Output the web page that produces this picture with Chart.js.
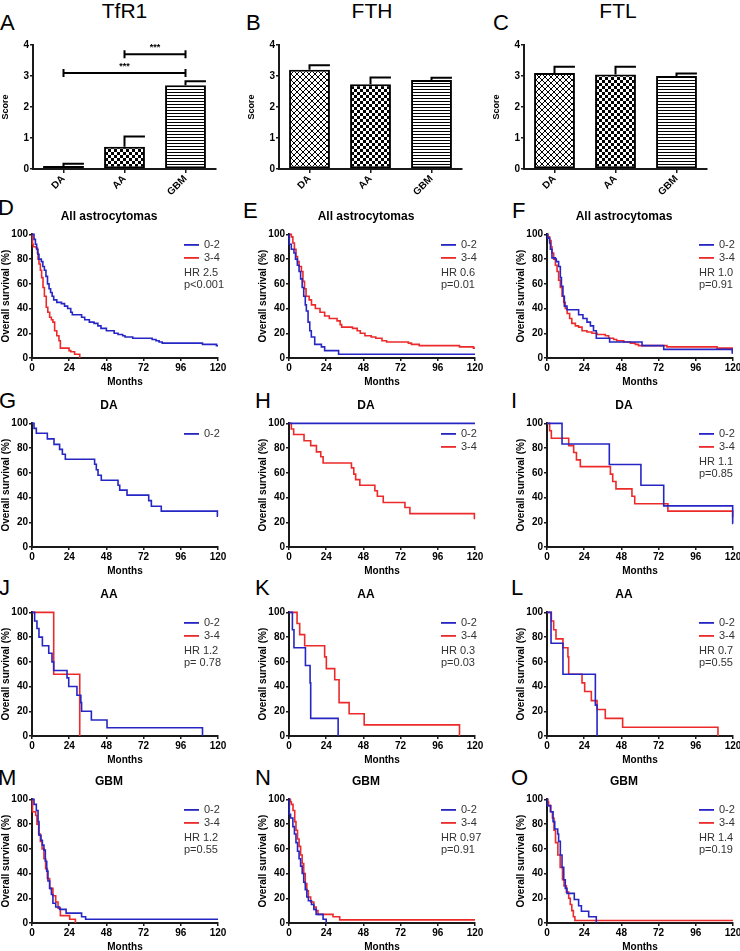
<!DOCTYPE html>
<html>
<head>
<meta charset="utf-8">
<script src="https://cdn.jsdelivr.net/npm/chart.js@4.4.1/dist/chart.umd.min.js"></script>
<style>
  html, body { margin: 0; padding: 0; background: #fff; }
  body { position: relative; width: 740px; height: 951px; overflow: hidden; font-family: "Liberation Sans", Arial, sans-serif; }
  canvas { position: absolute; }
  .tag { position: absolute; font-size: 22px; line-height: 1; color: #000; }
  .head { position: absolute; font-size: 21px; line-height: 1; color: #000; transform: translateX(-50%); white-space: nowrap; }
</style>
</head>
<body>
<script>
// =============== Scores (A-C)
const groups = ['DA', 'AA', 'GBM'];
const scoreTicks = [0, 1, 2, 3, 4];
const tfr1Score = [0.1, 0.72, 2.7];
const tfr1Sem = [0.07, 0.33, 0.13];
const fthScore = [3.2, 2.73, 2.87];
const fthSem = [0.15, 0.22, 0.07];
const ftlScore = [3.1, 3.05, 3.0];
const ftlSem = [0.2, 0.25, 0.08];
const tfr1Sig = [[0, 2, 3.1], [1, 2, 3.7]];   // groups compared + bracket height
const sigLabel = '***';

// =============== Survival (month, % alive)  0-2 = low, 3-4 = high
const monthTicks = [0, 24, 48, 72, 96, 120];
const survTicks = [0, 20, 40, 60, 80, 100];
const seriesNames = ['0-2', '3-4'];

const tfr1AllLow = [[0,100],[1.3,96],[2.2,92],[3,88],[3.8,84],[4.5,80],[6,78],[7,74],[8,71],[9,66],[10,60],[11,56],[12,53],[13,50],[14,47],[16,45],[19,44],[21,42],[23,40],[25,37],[26,35],[32,33],[34,31],[37,29],[40,28],[42.5,26],[44.5,24],[48,22],[53,20],[55.5,19],[58.5,18],[60,17],[65,16],[77.5,15],[80,14],[82,13],[84,12],[110,11],[119,10],[120,10]];
const tfr1AllHigh = [[0,100],[0.3,92],[0.8,90],[2.8,89],[3.5,85],[3.9,80],[4.5,76],[5.4,71],[6.2,65],[7.1,57],[8,50],[9.2,41],[10.2,37],[11.4,33],[12.5,31],[13.5,29],[14.6,22],[16,18],[17.4,14],[18.3,8],[23.9,6],[25,5],[27.5,3],[30.8,0]];
const fthAllLow = [[0,100],[0.2,92],[1.5,88],[3.2,85],[4.2,80],[5.4,75],[6.5,70],[7.5,64],[8.5,57],[9.5,50],[10.5,43],[11.2,38],[12.3,29],[13.4,22],[14.4,17],[16.6,11],[20.9,9],[23,6],[32,3],[120,3]];
const fthAllHigh = [[0,100],[1.5,98],[2.5,93],[3.5,88],[4.5,82],[5.5,78],[6.5,74],[8,70],[9,62],[10,56],[11,50],[13,47],[14.5,43],[17,40],[20,37],[23,34],[26,32],[31,30],[33,27],[34,25],[41,24],[44,22],[46,20],[49,18],[53,17],[56,16],[60,14],[63,13],[77,12],[79,11],[84,10],[110,9],[119,8],[120,8]];
const ftlAllLow = [[0,100],[0.5,97],[1.7,93],[2.2,88],[3.2,81],[5.4,80],[6,78],[7.5,74],[8.6,65],[9.3,58],[10.3,50],[11.2,42],[12.9,39],[20.4,35],[23.2,32],[25.8,29],[28,26],[30,22],[31.8,16],[40.4,13],[61.3,10],[75.3,7],[119.5,4],[120,4]];
const ftlAllHigh = [[0,100],[0.5,98],[1.7,95],[2.6,90],[3.2,85],[4.3,80],[5.4,75],[6.5,70],[7.5,63],[8.6,57],[9.7,50],[10.8,45],[11.8,40],[13,36],[14.6,32],[16,28],[18.3,26],[20.4,25],[22.6,22],[25.8,21],[29,20],[32.3,19],[37.6,18],[39.8,16],[43,15],[45,14],[49.5,13],[53.8,12],[57,11],[59,10],[77.4,9],[109.7,8],[119.5,7],[120,7]];

const tfr1DaLow = [[0,100],[1.3,96],[2.8,92],[9.9,87.5],[14.2,83],[17.8,79],[19.6,75],[21.5,71],[40.4,67],[41.5,62.5],[42.6,58],[44.7,54],[55.5,50],[56.6,46],[61.3,42],[75.3,37.5],[77,33],[83.4,29],[119.6,25],[120,25]];
const fthDaLow = [[0,100],[120,100]];
const fthDaHigh = [[0,100],[1.5,95.5],[3,91],[9.7,86],[14,82],[17.7,77],[20.5,73],[22,68],[40.3,64],[41.8,59],[43,54.5],[45.7,50],[55.4,45.5],[57,41],[60.8,36],[74.8,32],[78,27],[119.6,23],[120,23]];
const ftlDaLow = [[0,100],[9.7,83.3],[40.2,66.7],[60.6,50],[75.3,33.3],[119.8,19],[120,19]];
const ftlDaHigh = [[0,100],[1.7,94],[2.8,88],[14,82],[17.2,76.5],[19,70.5],[21.5,65],[40.9,59],[42.4,53],[44.5,47],[54.8,41],[56.6,35],[78,29],[119.8,24],[120,24]];

const tfr1AaLow = [[0,100],[1.7,93],[3.2,87],[4.5,80],[6.7,73],[10.8,67],[12.9,60],[14,53],[22.6,47],[23.7,40],[29,33],[31.5,27],[32,20],[38.3,13],[48.4,6.7],[110,0]];
const tfr1AaHigh = [[0,100],[14,50],[30.8,0]];
const fthAaLow = [[0,100],[2.2,86],[3.2,71.4],[10.6,57],[13.6,43],[14,14.3],[31.7,0]];
const fthAaHigh = [[0,100],[5.2,91],[6.9,82],[10.1,73],[23,64],[24.1,54.5],[29.5,45.5],[32.3,27],[38.8,18],[48.5,9],[110,0]];
const ftlAaLow = [[0,100],[2.6,75],[10.3,50],[31.2,25],[32.3,0]];
const ftlAaHigh = [[0,100],[2.8,93],[4.3,86],[5.8,78.6],[10.3,71.4],[13.5,64],[14,50],[22.6,43],[24.3,36],[28.6,28.6],[32.3,21.4],[37.6,14.3],[48.8,7.1],[110.3,0]];

const tfr1GbmLow = [[0,100],[1.3,96],[2.8,91],[3.9,82],[4.5,71],[5.8,67],[6.7,63],[7.7,59],[8.6,50],[9.5,42],[10.3,34],[11.4,28],[12.5,23],[13.5,16],[15.3,13],[17.8,11],[22,8],[32,5],[34.6,3],[120,3]];
const tfr1GbmHigh = [[0,100],[0.3,90],[2.4,87],[3.2,80],[4.3,72],[5.4,66],[6.5,60],[7.7,52],[8.8,44],[9.9,36],[11.4,28],[13.5,22],[15.3,17],[16.8,12],[18.3,6],[24.3,3],[28,0]];
const fthGbmLow = [[0,100],[0.2,88],[1,85],[2.5,78],[3.5,72],[4.5,65],[5.5,58],[6.5,52],[7.5,46],[8.5,40],[9.5,33],[10.5,27],[11.5,21],[12.5,18],[14.5,15],[16,11],[17.5,7],[22,3],[24,0]];
const fthGbmHigh = [[0,100],[0.9,98],[1.5,96],[2.6,91],[3.7,82],[4.5,75],[5.5,68],[6.5,62],[7.5,55],[8.5,48],[9.5,40],[10.5,32],[11.5,26],[12.5,21],[14,17],[16,13],[17.5,10],[18.7,7],[28.4,5],[32.7,2.5],[120,2.5]];
const ftlGbmLow = [[0,100],[0.3,95],[2.2,90],[3.9,82],[5,76],[6.9,72],[7.5,66],[8.6,55],[9.7,45],[10.8,35],[11.8,28],[12.9,24],[17.6,19],[20.4,14],[22.2,9.5],[26.9,5],[31.8,0]];
const ftlGbmHigh = [[0,100],[0.5,98],[1,95],[2.5,90],[3.5,85],[4.5,75],[5.5,65],[7,55],[8.5,45],[10,35],[11,30],[12.5,25],[14,20],[15,15],[16,10],[17,5],[18,2],[120,2]];

// title, low, high, HR, p
const kmPanels = [
  ['All astrocytomas', tfr1AllLow, tfr1AllHigh, 'HR 2.5', 'p<0.001'],
  ['All astrocytomas', fthAllLow, fthAllHigh, 'HR 0.6', 'p=0.01'],
  ['All astrocytomas', ftlAllLow, ftlAllHigh, 'HR 1.0', 'p=0.91'],
  ['DA', tfr1DaLow, null, '', ''],
  ['DA', fthDaLow, fthDaHigh, '', ''],
  ['DA', ftlDaLow, ftlDaHigh, 'HR 1.1', 'p=0.85'],
  ['AA', tfr1AaLow, tfr1AaHigh, 'HR 1.2', 'p= 0.78'],
  ['AA', fthAaLow, fthAaHigh, 'HR 0.3', 'p=0.03'],
  ['AA', ftlAaLow, ftlAaHigh, 'HR 0.7', 'p=0.55'],
  ['GBM', tfr1GbmLow, tfr1GbmHigh, 'HR 1.2', 'p=0.55'],
  ['GBM', fthGbmLow, fthGbmHigh, 'HR 0.97', 'p=0.91'],
  ['GBM', ftlGbmLow, ftlGbmHigh, 'HR 1.4', 'p=0.19'],
];

// =============== layout
const FONT = '"Liberation Sans", Arial, sans-serif';
const BLUE = '#2626c4';
const RED = '#ec2a2a';
const AXIS = '#1a1a1a';
const barAxisX = [33, 279, 524];
const kmAxisX = [32, 289, 547];
const kmPlotTop = [234, 423, 612, 799];
const tags = [['A',0,15],['B',246,15],['C',493,15],['D',-2,200],['E',243,203],['F',512,203],
              ['G',-1,393],['H',255,393],['I',511,393],['J',-1,580],['K',255,580],['L',511,580],
              ['M',-2,770],['N',255,770],['O',511,770]];
const heads = [['TfR1',124.5],['FTH',372],['FTL',618]];

Chart.defaults.font.family = FONT;
Chart.defaults.color = '#000';

tags.forEach(([t, x, y]) => {
  const d = document.createElement('div');
  d.className = 'tag'; d.textContent = t;
  d.style.left = x + 'px'; d.style.top = (y - 3) + 'px';
  document.body.appendChild(d);
});
heads.forEach(([t, x]) => {
  const d = document.createElement('div');
  d.className = 'head'; d.textContent = t;
  d.style.left = x + 'px'; d.style.top = '0px';
  document.body.appendChild(d);
});

function addCanvas(left, top, w, h) {
  const c = document.createElement('canvas');
  c.width = w; c.height = h;
  c.style.left = left + 'px'; c.style.top = top + 'px';
  c.style.width = w + 'px'; c.style.height = h + 'px';
  document.body.appendChild(c);
  return c;
}

// fill patterns for the bars
function makePattern(w, h, draw) {
  const c = document.createElement('canvas');
  c.width = w; c.height = h;
  const g = c.getContext('2d');
  g.fillStyle = '#fff'; g.fillRect(0, 0, w, h);
  g.fillStyle = '#000';
  draw(g);
  return g.createPattern(c, 'repeat');
}
const hatch = makePattern(6, 6, g => { for (let i = 0; i < 6; i++) { g.fillRect(i, i, 1, 1); g.fillRect(5 - i, i, 1, 1); } });
const checker = makePattern(6, 6, g => { g.fillRect(0, 0, 3, 3); g.fillRect(3, 3, 3, 3); });
const stripes = makePattern(4, 3, g => { g.fillRect(0, 0, 4, 1); });
const barFills = [hatch, checker, stripes];

const errBars = {
  id: 'errBars',
  afterDatasetsDraw(chart, args, opts) {
    const ctx = chart.ctx, y = chart.scales.y;
    const meta = chart.getDatasetMeta(0);
    const vals = chart.data.datasets[0].data;
    ctx.save();
    ctx.strokeStyle = '#000';
    ctx.lineWidth = 2;
    meta.data.forEach((bar, i) => {
      const yTop = y.getPixelForValue(vals[i] + opts.sem[i]);
      const yBar = y.getPixelForValue(vals[i]);
      ctx.beginPath();
      ctx.moveTo(bar.x, yBar); ctx.lineTo(bar.x, yTop);
      ctx.moveTo(bar.x - 1, yTop); ctx.lineTo(bar.x + bar.width / 2, yTop);
      ctx.stroke();
    });
    (opts.sig || []).forEach(([a, b, h]) => {
      const xa = meta.data[a].x, xb = meta.data[b].x, yy = y.getPixelForValue(h);
      ctx.beginPath();
      ctx.moveTo(xa, yy - 4); ctx.lineTo(xa, yy + 4);
      ctx.moveTo(xa, yy); ctx.lineTo(xb, yy);
      ctx.moveTo(xb, yy - 4); ctx.lineTo(xb, yy + 4);
      ctx.stroke();
      ctx.fillStyle = '#000';
      ctx.font = 'bold 9px ' + FONT;
      ctx.textAlign = 'center';
      ctx.textBaseline = 'bottom';
      ctx.fillText(sigLabel, (xa + xb) / 2, yy - 2);
    });
    ctx.restore();
  }
};

function barChart(col, score, sem, sig) {
  const cv = addCanvas(barAxisX[col] - 33, 35, 228, 174);
  new Chart(cv, {
    type: 'bar',
    data: {
      labels: groups,
      datasets: [{
        data: score,
        backgroundColor: barFills,
        borderColor: '#000',
        borderWidth: 2,
        borderSkipped: false,
        barPercentage: 0.67,
        categoryPercentage: 1
      }]
    },
    options: {
      responsive: false,
      animation: false,
      layout: { padding: { top: 10, right: 12, left: 0, bottom: 0 } },
      plugins: { legend: { display: false }, tooltip: { enabled: false }, errBars: { sem, sig } },
      scales: {
        x: {
          grid: { display: true, drawOnChartArea: false, offset: false, tickLength: 4, color: AXIS, lineWidth: 1.5 },
          border: { color: AXIS, width: 2 },
          ticks: { minRotation: 45, maxRotation: 45, autoSkip: false, padding: 0, font: { size: 10, weight: 'bold' } },
          afterFit: s => { s.height = 40; }
        },
        y: {
          min: 0, max: 4,
          afterBuildTicks: s => { s.ticks = scoreTicks.map(v => ({ value: v })); },
          grid: { display: true, drawOnChartArea: false, tickLength: 3, color: AXIS, lineWidth: 1.5 },
          border: { color: AXIS, width: 2 },
          ticks: { padding: 1, font: { size: 10, weight: 'bold' } },
          title: { display: true, text: 'Score', padding: 0, font: { size: 9, weight: 'bold' } },
          afterFit: s => { s.width = 33; }
        }
      }
    },
    plugins: [errBars]
  });
}

barChart(0, tfr1Score, tfr1Sem, tfr1Sig);
barChart(1, fthScore, fthSem, []);
barChart(2, ftlScore, ftlSem, []);

// =============== Kaplan-Meier panels
const kmLegend = {
  id: 'kmLegend',
  afterDraw(chart, args, opts) {
    const { ctx, chartArea } = chart;
    const x0 = chartArea.left + 152;
    let y = chartArea.top + 10.5;
    ctx.save();
    ctx.font = '11px ' + FONT;
    ctx.textBaseline = 'middle';
    ctx.textAlign = 'left';
    chart.data.datasets.forEach(ds => {
      ctx.strokeStyle = ds.borderColor;
      ctx.lineWidth = 1.8;
      ctx.beginPath(); ctx.moveTo(x0, y); ctx.lineTo(x0 + 15, y); ctx.stroke();
      ctx.fillStyle = '#333';
      ctx.fillText(ds.label, x0 + 20, y);
      y += 13;
    });
    if (opts.hr) {
      ctx.fillStyle = '#333';
      ctx.fillText(opts.hr, x0, chartArea.top + 39);
      ctx.fillText(opts.p, x0, chartArea.top + 51);
    }
    ctx.restore();
  }
};

function kmLine(label, pts, color) {
  return { label, data: pts, borderColor: color, backgroundColor: color, borderWidth: 1.6,
           stepped: 'before', pointRadius: 0, fill: false, clip: false };
}

kmPanels.forEach(([title, low, high, hr, p], i) => {
  const col = i % 3, row = Math.floor(i / 3);
  const cv = addCanvas(kmAxisX[col] - 32, Math.round(kmPlotTop[row] - 29.4), 250, 185);
  const datasets = [];
  if (low) datasets.push(kmLine(seriesNames[0], low, BLUE));
  if (high) datasets.push(kmLine(seriesNames[1], high, RED));
  new Chart(cv, {
    type: 'line',
    data: { datasets },
    options: {
      responsive: false,
      animation: false,
      layout: { padding: { top: 0, right: 32, left: 0, bottom: 0 } },
      plugins: {
        legend: { display: false },
        tooltip: { enabled: false },
        title: { display: true, text: title, font: { size: 12, weight: 'bold' }, padding: { top: 4, bottom: 11 } },
        kmLegend: { hr, p }
      },
      scales: {
        x: {
          type: 'linear', min: 0, max: 120,
          afterBuildTicks: s => { s.ticks = monthTicks.map(v => ({ value: v })); },
          grid: { display: true, drawOnChartArea: false, tickLength: 3, color: AXIS, lineWidth: 1.5 },
          border: { color: AXIS, width: 2 },
          ticks: { padding: 1, maxRotation: 0, font: { size: 10, weight: 'bold' } },
          title: { display: true, text: 'Months', padding: { top: 0, bottom: 2 }, font: { size: 10, weight: 'bold' } },
          afterFit: s => { s.height = 32; }
        },
        y: {
          min: 0, max: 100,
          afterBuildTicks: s => { s.ticks = survTicks.map(v => ({ value: v })); },
          grid: { display: true, drawOnChartArea: false, tickLength: 3, color: AXIS, lineWidth: 1.5 },
          border: { color: AXIS, width: 2 },
          ticks: { padding: 1, font: { size: 10, weight: 'bold' } },
          title: { display: true, text: 'Overall survival (%)', padding: 0, font: { size: 10, weight: 'bold' } },
          afterFit: s => { s.width = 32; }
        }
      }
    },
    plugins: [kmLegend]
  });
});
</script>
</body>
</html>
